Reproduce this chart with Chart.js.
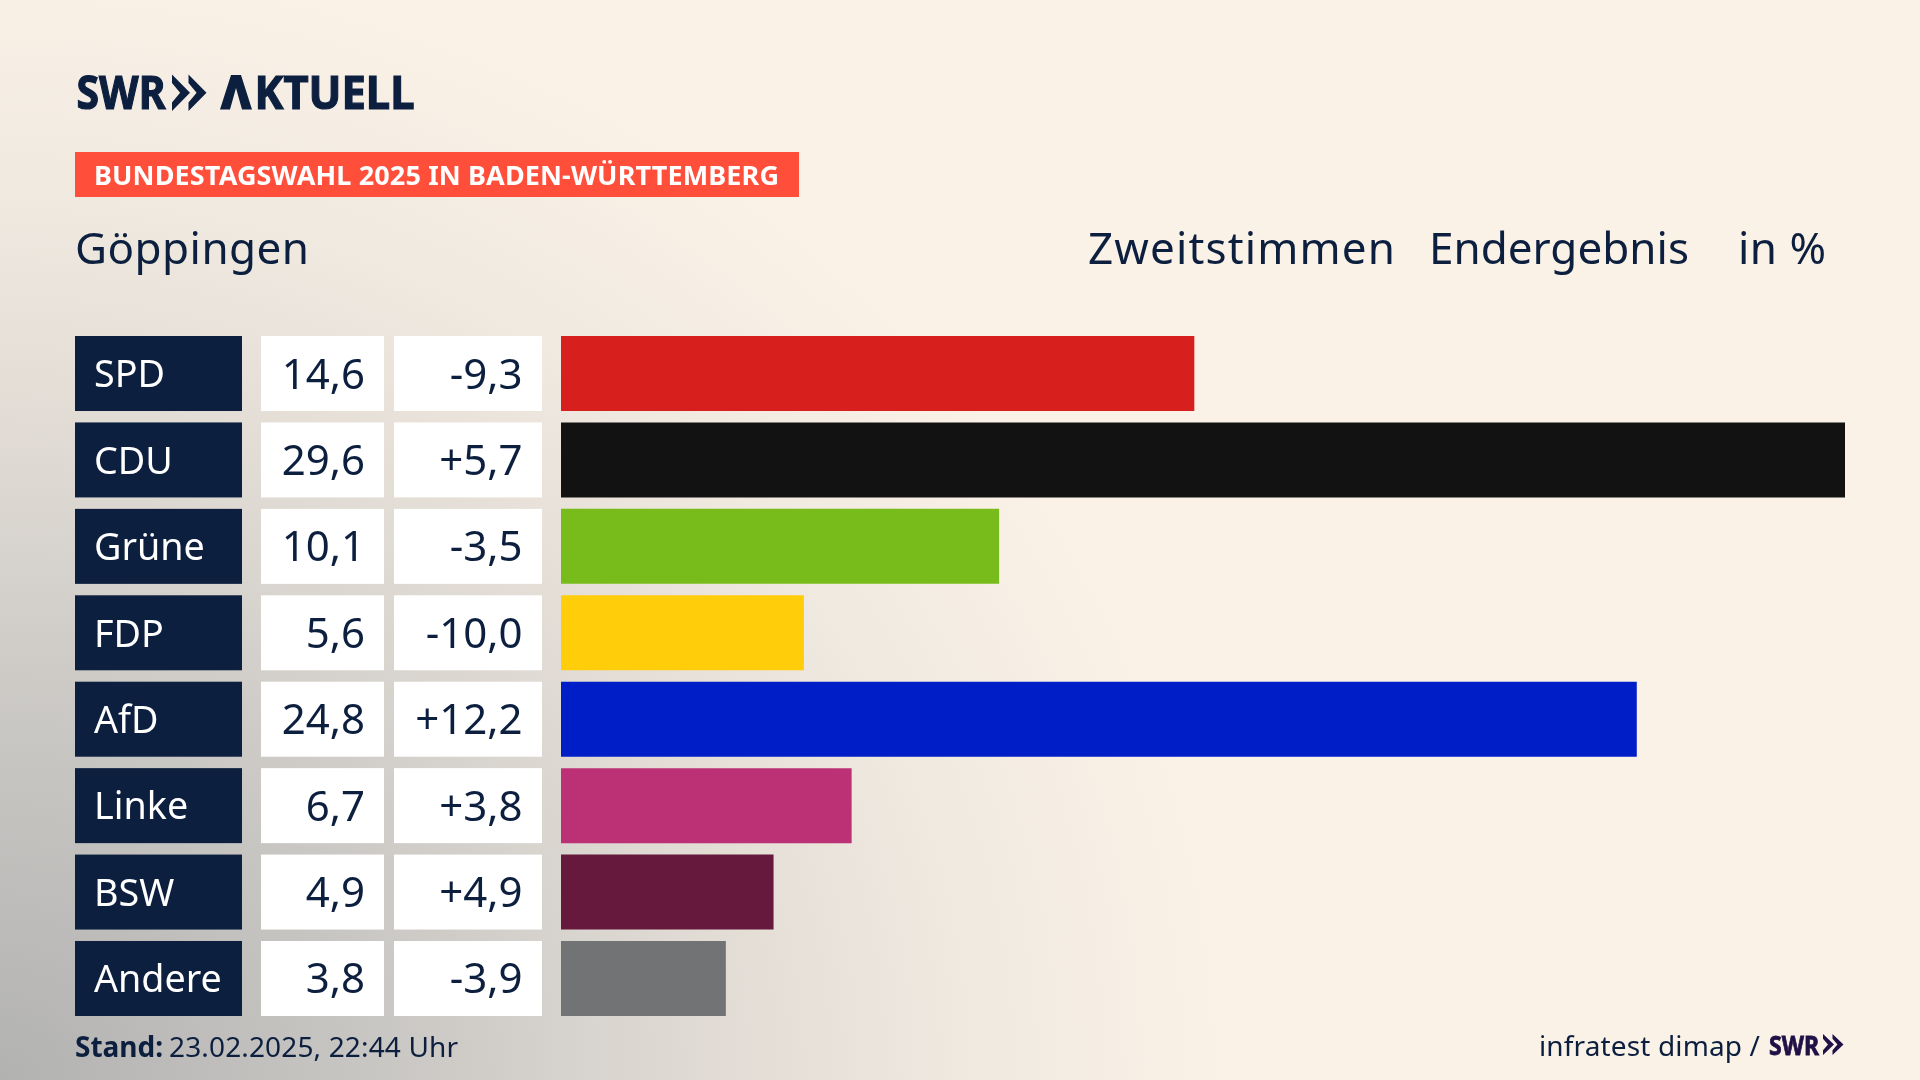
<!DOCTYPE html>
<html lang="de">
<head>
<meta charset="utf-8">
<title>Bundestagswahl 2025 Göppingen</title>
<style>
html,body{margin:0;padding:0;width:1920px;height:1080px;overflow:hidden;background:#FBF2E7;}
body{background:radial-gradient(ellipse 1240px 1130px at 0% 100%,#b2b2b1 0%,#c8c6c3 30%,#dfdad3 56%,#f0e9e0 78%,#FBF2E7 100%),#FBF2E7;}
canvas{position:absolute;left:0;top:0;}
</style>
<script src="https://cdn.jsdelivr.net/npm/chart.js@4"></script>
</head>
<body>
<canvas id="c" width="1920" height="1080"></canvas>
<script>
const parties = ['SPD','CDU','Grüne','FDP','AfD','Linke','BSW','Andere'];
const shares  = [14.6,29.6,10.1,5.6,24.8,6.7,4.9,3.8];
const changes = [-9.3,5.7,-3.5,-10.0,12.2,3.8,4.9,-3.9];
const barColors = ['#D71F1D','#121212','#78BC1B','#FFCD09','#001EC8','#BC3075','#67183D','#717375'];
const NAVY = '#0C1F3F';
const FONT = '"Noto Sans"';

const fmtShare = v => v.toFixed(1).replace('.',',');
const fmtChange = v => (v>0?'+':'') + v.toFixed(1).replace('.',',');

function text(ctx,str,x,y,font,color,align){
  ctx.font = font; ctx.fillStyle = color; ctx.textAlign = align||'left';
  ctx.textBaseline = 'alphabetic'; ctx.letterSpacing = '0px';
  ctx.fillText(str,x,y);
}
// left aligned text whose letter spacing makes it span the wanted width
function fit(ctx,str,x,y,font,color,width){
  ctx.font = font; ctx.fillStyle = color; ctx.textAlign = 'left';
  ctx.textBaseline = 'alphabetic'; ctx.letterSpacing = '0px';
  const w = ctx.measureText(str).width;
  ctx.letterSpacing = ((width-w)/(str.length-1)).toFixed(3)+'px';
  ctx.fillText(str,x,y);
  ctx.letterSpacing = '0px';
}
// horizontally squeezed, slightly emboldened logo lettering
function squeezed(ctx,str,x,y,font,color,width,extra){
  ctx.save();
  ctx.font = font; ctx.fillStyle = color; ctx.strokeStyle = color; ctx.lineJoin = 'miter';
  ctx.textAlign = 'left'; ctx.textBaseline = 'alphabetic';
  const s = width/ctx.measureText(str).width;
  ctx.translate(x,y); ctx.scale(s,1);
  ctx.fillText(str,0,0);
  if(extra){ ctx.lineWidth = extra; ctx.strokeText(str,0,0); }
  ctx.restore();
}
function chevrons(ctx,x,top,h,w,gap,color){
  ctx.fillStyle = color;
  for(let i=0;i<2;i++){
    const x0 = x+i*gap;
    ctx.beginPath();
    ctx.moveTo(x0,top); ctx.lineTo(x0+w,top+h/2); ctx.lineTo(x0,top+h);
    ctx.lineTo(x0,top+h*0.77); ctx.lineTo(x0+w*0.45,top+h/2); ctx.lineTo(x0,top+h*0.23);
    ctx.closePath(); ctx.fill();
  }
}

const page = {
  id:'page',
  beforeDraw(chart){
    const ctx = chart.ctx, yS = chart.scales.y;
    if(!yS._shifted){
      const orig = yS.drawLabels;
      yS.drawLabels = function(a){ ctx.save(); ctx.translate(0,3); orig.call(yS,a); ctx.restore(); };
      yS._shifted = true;
    }
    ctx.save();
    // header logo
    const LOGO = 'bold 47px '+FONT;
    squeezed(ctx,'SWR',76.5,109,LOGO,NAVY,89,1.2);
    chevrons(ctx,172,74.5,36.5,18,16.5,NAVY);
    // AKTUELL with the logo's bar-less first letter
    ctx.font = LOGO;
    const fullW = ctx.measureText('AKTUELL').width, aW = ctx.measureText('A').width;
    const sx = 160/(fullW-aW);
    ctx.save();
    ctx.beginPath(); ctx.rect(256.8,60,180,60); ctx.clip();
    squeezed(ctx,'AKTUELL',254.5-aW*sx,109,LOGO,NAVY,fullW*sx,1.2);
    ctx.restore();
    ctx.fillStyle = NAVY;
    ctx.beginPath();
    [[220,109.5],[231,75],[241,75],[252,109.5],[242,109.5],[236,88],[230,109.5]]
      .forEach((p,i)=> i?ctx.lineTo(p[0],p[1]):ctx.moveTo(p[0],p[1]));
    ctx.closePath(); ctx.fill();
    // banner
    ctx.fillStyle = '#FF4F3B'; ctx.fillRect(75,152,724,45);
    fit(ctx,'BUNDESTAGSWAHL 2025 IN BADEN-WÜRTTEMBERG',94,185,'bold 27px '+FONT,'#FFFFFF',685);
    // titles
    fit(ctx,'Göppingen',75,264,'44px '+FONT,NAVY,234);
    fit(ctx,'Zweitstimmen',1088,264,'44px '+FONT,NAVY,307);
    fit(ctx,'Endergebnis',1429,264,'44px '+FONT,NAVY,260);
    fit(ctx,'in %',1738,264,'44px '+FONT,NAVY,88);
    // table cells
    const bh = 75;
    parties.forEach((p,i)=>{
      const yc = yS.getPixelForValue(i), top = yc-bh/2;
      ctx.fillStyle = NAVY;      ctx.fillRect(75,top,167,bh);
      ctx.fillStyle = '#FFFFFF'; ctx.fillRect(261,top,123,bh);
      ctx.fillRect(394,top,148,bh);
      text(ctx,fmtShare(shares[i]),365,yc+15,'42px '+FONT,NAVY,'right');
      text(ctx,fmtChange(changes[i]),522.5,yc+15,'42px '+FONT,NAVY,'right');
    });
    // footer
    fit(ctx,'Stand:',75,1057,'bold 28px '+FONT,NAVY,88);
    fit(ctx,'23.02.2025, 22:44 Uhr',169,1057,'28px '+FONT,NAVY,289);
    fit(ctx,'infratest dimap /',1539,1056,'28px '+FONT,NAVY,221);
    squeezed(ctx,'SWR',1769,1054.5,'bold 27px '+FONT,'#1F1147',50,0.8);
    chevrons(ctx,1823,1034,21,11,9.5,'#1F1147');
    ctx.restore();
  }
};

new Chart(document.getElementById('c'),{
  type:'bar',
  data:{labels:parties,datasets:[{data:shares,backgroundColor:barColors,borderWidth:0,
        barPercentage:0.868,categoryPercentage:1}]},
  options:{
    indexAxis:'y',responsive:false,animation:false,devicePixelRatio:1,
    layout:{padding:{left:94,right:75,top:330.3,bottom:58.3}},
    plugins:{legend:{display:false},tooltip:{enabled:false},title:{display:false}},
    scales:{
      x:{display:false,min:0,max:29.6},
      y:{position:'left',grid:{display:false},border:{display:false},
         afterFit(s){s.width=467;},
         ticks:{color:'#FFFFFF',crossAlign:'far',autoSkip:false,padding:0,font:{family:'Noto Sans',size:37.7}}}
    }
  },
  plugins:[page]
});
</script>
</body>
</html>
